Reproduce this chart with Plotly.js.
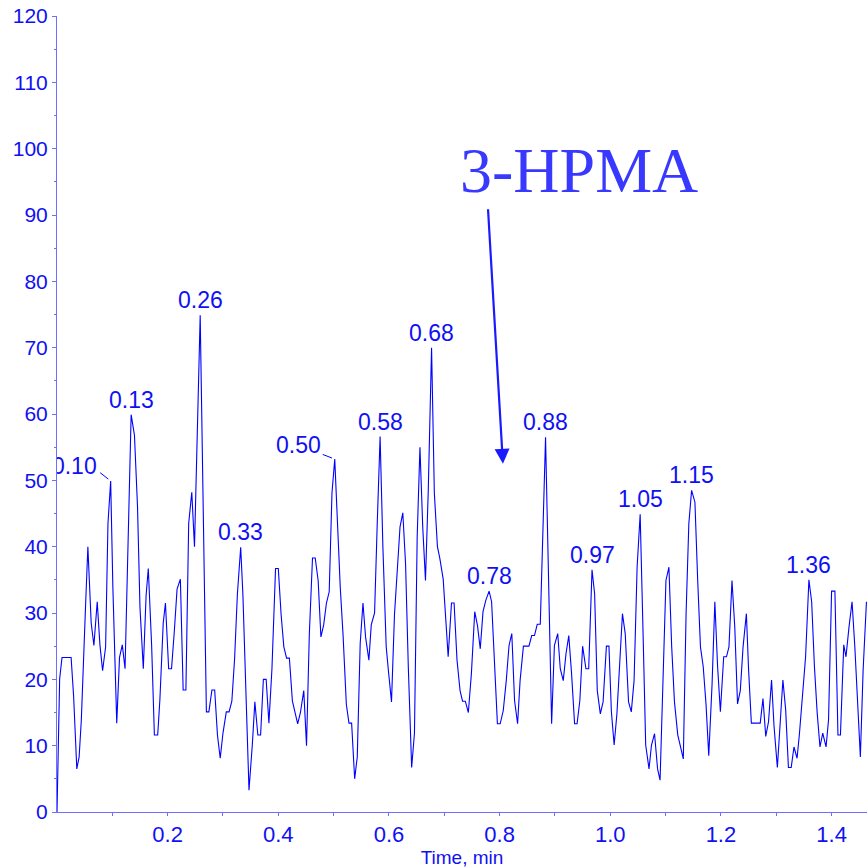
<!DOCTYPE html>
<html>
<head>
<meta charset="utf-8">
<script src="https://cdn.plot.ly/plotly-3.0.1.min.js"></script>
<style>html,body{margin:0;padding:0;background:#fff;}#chart{width:867px;height:868px;}</style>
</head>
<body>
<div id="chart"></div>
<script>
// ---- data ----
const time = [0,0.0048,0.0091,0.0145,0.02,0.0255,0.030,0.0358,0.040,0.044,0.0515,0.0558,0.0618,0.0667,0.0727,0.0776,0.0824,0.0879,0.0921,0.097,0.101,0.108,0.113,0.118,0.123,0.129,0.134,0.14,0.1455,0.150,0.156,0.161,0.165,0.171,0.176,0.182,0.186,0.192,0.196,0.2018,0.207,0.212,0.217,0.223,0.228,0.233,
0.238,0.2436,0.2485,0.2588,0.27,0.2745,0.28,0.285,0.29,0.295,0.3,0.306,0.311,0.316,0.321,0.326,0.332,0.336,0.341,0.347,0.353,0.3576,0.363,0.368,0.373,0.378,0.383,0.3885,0.395,0.4,0.405,0.41,0.415,0.42,0.4255,0.43,0.435,0.44,0.446,0.451,0.456,0.4618,0.4667,0.472,0.477,0.482,0.487,0.492,
0.497,0.502,0.5066,0.512,0.517,0.523,0.5277,0.5325,0.538,0.5427,0.548,0.553,0.5577,0.5637,0.568,0.574,0.5788,0.584,0.589,0.595,0.599,0.6046,0.61,0.6155,0.62,0.625,0.63,0.635,0.641,0.6461,0.651,0.656,0.661,0.666,0.671,0.677,0.682,0.6876,0.692,0.698,0.7026,0.707,0.713,0.7177,0.723,0.7285,0.733,0.738,0.7435,
0.749,0.755,0.76,0.765,0.77,0.775,0.781,0.7855,0.791,0.796,0.801,0.8066,0.812,0.817,0.822,0.827,0.8325,0.837,0.843,0.848,0.853,0.858,0.863,0.868,0.8735,0.883,0.894,0.899,0.905,0.9096,0.915,0.92,0.925,0.93,0.9355,0.94,0.945,0.95,0.956,0.961,0.967,0.9717,0.9765,0.982,0.987,0.993,0.9976,
1.002,1.007,1.012,1.0176,1.022,1.027,1.033,1.038,1.043,1.0485,1.054,1.059,1.064,1.07,1.0745,1.08,1.0855,1.09,1.095,1.1006,1.106,1.111,1.116,1.122,1.127,1.132,1.137,1.142,1.147,1.153,1.158,1.163,1.168,1.173,1.178,1.184,1.189,1.194,1.199,1.205,1.21,1.2145,1.22,1.225,1.23,1.235,1.24,1.246,1.25,
1.255,1.26,1.266,1.271,1.276,1.281,1.286,1.2915,1.296,1.302,1.312,1.317,1.322,1.327,1.332,1.3376,1.342,1.353,1.359,1.364,1.369,1.374,1.379,1.384,1.39,1.3945,1.4,1.406,1.4115,1.416,1.422,1.426,1.4315,1.437,1.442,1.447,1.452,1.457,1.463];
const intensity = [0,20.1,23.3,23.3,23.3,23.3,17.5,6.5,8.3,13.9,30.8,40,28.5,25.1,31.7,25.2,21.3,24.9,43.5,49.9,33.8,13.4,23.3,25.2,21.6,43,59.9,56.8,46.1,30.8,21.6,32.6,36.7,25.2,11.6,11.6,17,28.5,31.5,21.6,21.6,27.2,33.6,35.1,18.4,18.4,
43.5,48.2,40,74.9,15.1,15.1,18.4,18.4,11.6,8.1,11.9,15.1,15.1,16.7,23.1,32.8,39.9,32.8,18,3.3,10.1,16.6,11.6,11.6,20,20,13.4,21.6,36.7,36.7,29.8,24.9,23.2,23.2,16.7,15,13.3,15,18.3,10,26.7,38.3,38.3,34.9,26.4,28.2,31.5,33.2,
48.1,53.2,43.5,33.8,26.7,16.2,13.4,13.4,5,8.3,25.4,31.5,26.4,22.9,28.2,30,43.5,56.6,40,24.9,21.3,16.6,29.8,37.9,43,45.1,37.4,21.8,6.7,11.9,41.5,55,43,34.9,48.4,70,48.1,40,38.2,35.1,29.5,23.4,31.5,31.5,22.9,18.3,16.7,16.7,15,
20.9,30.2,28.1,24.6,30.2,31.9,33.3,31.7,20.9,13.3,13.3,15.3,19.8,25.1,26.9,16.8,13.3,19.8,25,25,25,26.6,26.6,28.3,28.3,56.5,13.3,25.1,26.9,21.6,19.8,23.9,26.6,20.9,13.3,13.3,16.8,25,21.6,21.6,36.5,32.9,18.3,14.8,16.6,25,25,
15.1,10.1,14.8,22.9,29.9,26.9,16.6,15.1,19.8,36.9,44.9,27.9,10.1,6.5,10.1,11.8,6.5,4.8,19.8,34.9,36.9,24.9,16.6,11.6,9.8,8,29.9,43.5,48.5,46.7,34.9,24.9,21.9,16.3,8.5,19.3,31.7,21.9,15.1,23.4,23.4,24.9,34.9,27.9,16.3,18.3,24.9,29.9,21.4,
13.4,13.4,13.4,13.4,17.1,11.4,13.6,19.9,12.9,6.7,19.9,15.4,6.7,6.7,9.8,8.1,11.9,23.4,35,31.7,21.9,14.9,9.8,11.9,9.8,13.9,33.3,33.3,11.6,11.6,25.2,23.4,27.9,31.7,24.9,16.9,8.3,21.4,31.7];
const peakLabels = ["0.10","0.13","0.26","0.33","0.50","0.58","0.68","0.78","0.88","0.97","1.05","1.15","1.36"];
const xTickVals = [0.2,0.4,0.6,0.8,1.0,1.2,1.4];
const xTickText = ["0.2","0.4","0.6","0.8","1.0","1.2","1.4"];
const xMinorVals = [0.1,0.3,0.5,0.7,0.9,1.1,1.3];
const compoundName = "3-HPMA";
const arrowTip = {t: 0.806, v: 52.5};

// ---- style / layout constants ----
const W = 867, H = 868, M = {l: 57, r: 0, t: 16, b: 56};
const XR = [0, 1.464], YR = [0, 120];
const pxX = (W - M.l - M.r) / (XR[1] - XR[0]);
const pxY = (H - M.t - M.b) / (YR[1] - YR[0]);
const BLUE = '#0000ff', TXT = '#1010f5', AXC = '#6e6eff';
const FONT = 'Liberation Sans, Arial, sans-serif';

function peakIndex(lbl) {
  const c = parseFloat(lbl);
  let best = -1;
  for (let i = 0; i < time.length; i++) {
    if (Math.abs(time[i] - c) <= 0.012 && (best < 0 || intensity[i] > intensity[best])) best = i;
  }
  return best;
}

const annotations = [];
const clippedX = [], clippedY = [], clippedT = [];
peakLabels.forEach(lbl => {
  const i = peakIndex(lbl);
  const px = time[i], py = intensity[i];
  const font = {family: FONT, size: 23, color: TXT};
  if (lbl === "0.10") {
    // text drawn as scatter text so that it is clipped at the y axis like the reference
    clippedX.push(px - 14 / pxX); clippedY.push(py + 12.5 / pxY); clippedT.push(lbl);
    // leader line only (empty text)
    annotations.push({x: px, y: py, text: '', showarrow: true, arrowhead: 0, arrowwidth: 1,
      arrowcolor: BLUE, ax: -12, ay: -9.5, standoff: 3});
  } else if (lbl === "0.50") {
    annotations.push({x: px, y: py, text: lbl, showarrow: true, arrowhead: 0, arrowwidth: 1,
      arrowcolor: BLUE, ax: -36, ay: -14, standoff: 3, font: font});
  } else {
    annotations.push({x: px, y: py, text: lbl, showarrow: false, xanchor: 'center',
      yanchor: 'bottom', yshift: 0, font: font});
  }
});

annotations.push({xref: 'paper', yref: 'paper', x: (579 - M.l) / (W - M.l - M.r), y: 0.806,
  text: compoundName, showarrow: false, xanchor: 'center', yanchor: 'middle',
  font: {family: 'Liberation Serif, Times New Roman, serif', size: 64, color: '#3838ff'}});
annotations.push({x: arrowTip.t, y: arrowTip.v, text: '', showarrow: true, arrowhead: 2,
  arrowsize: 1.36, arrowwidth: 2.2, arrowcolor: '#1a1aff', ax: -15, ay: -256, standoff: 0});

const traces = [
  {x: time, y: intensity, type: 'scatter', mode: 'lines', line: {color: BLUE, width: 1.1},
   hoverinfo: 'skip', cliponaxis: true},
  {x: clippedX, y: clippedY, text: clippedT, type: 'scatter', mode: 'text',
   textposition: 'middle left', textfont: {family: FONT, size: 23, color: TXT},
   hoverinfo: 'skip', cliponaxis: true}
];

const layout = {
  width: W, height: H, margin: M, showlegend: false,
  paper_bgcolor: '#ffffff', plot_bgcolor: '#ffffff',
  xaxis: {range: XR, tickmode: 'array', tickvals: xTickVals, ticktext: xTickText,
    ticks: 'outside', ticklen: 3, tickwidth: 1, tickcolor: AXC,
    showline: true, linecolor: AXC, linewidth: 1, showgrid: false, zeroline: false,
    tickfont: {family: FONT, size: 22, color: TXT},
    minor: {tickmode: 'array', tickvals: xMinorVals, ticks: 'outside', ticklen: 3, tickcolor: AXC, showgrid: false},
    title: {text: 'Time, min', font: {family: FONT, size: 19, color: TXT}, standoff: 4}},
  yaxis: {range: YR, dtick: 10, tick0: 0, ticks: 'outside', ticklen: 4, tickwidth: 1, tickcolor: AXC,
    showline: true, linecolor: AXC, linewidth: 1, showgrid: false, zeroline: false,
    tickfont: {family: FONT, size: 21, color: TXT},
    minor: {dtick: 5, ticks: 'outside', ticklen: 2, tickcolor: AXC, showgrid: false}},
  annotations: annotations
};

Plotly.newPlot('chart', traces, layout, {displayModeBar: false, staticPlot: true});
</script>
</body>
</html>
